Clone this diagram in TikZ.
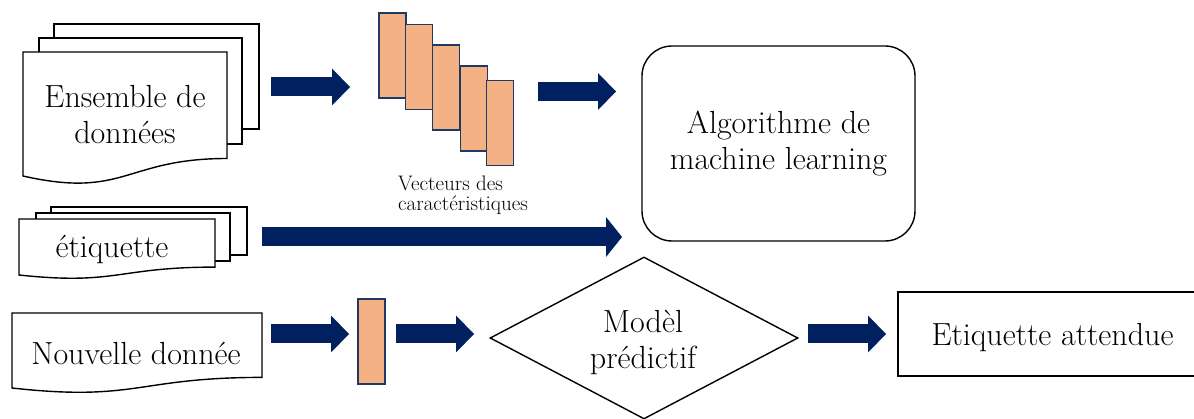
\documentclass[tikz,border=0pt]{standalone}
\usetikzlibrary{arrows.meta,shapes.geometric}
\definecolor{navy}{HTML}{002060}
\definecolor{peach}{HTML}{F4B183}
\definecolor{vecedge}{HTML}{1F3864}
\begin{document}
\begin{tikzpicture}[x=1pt,y=-1pt,
  outline/.style={draw=black, line width=1.4pt, fill=white, line join=miter},
  bigfont/.style={font=\fontsize{32}{36}\selectfont},
  bigtext/.style={bigfont, inner sep=0pt, align=center},
  smalltext/.style={font=\fontsize{21}{20}\selectfont, inner sep=0pt, align=left},
  vecbox/.style={draw=vecedge, fill=peach, line width=1.8pt, minimum width=27pt, minimum height=85pt, inner sep=0pt, outer sep=0pt},
  blockarrow/.style={draw=navy, line width=19pt, -{Triangle[length=18pt,width=37pt,line width=0pt]}},
  longarrow/.style={draw=navy, line width=19pt, -{Triangle[length=16pt,width=40pt,line width=0pt]}},
]
\useasboundingbox (0,0) rectangle (1194,419);

% --- Ensemble de donnees (multi-document)
\draw[outline] (54,24) rectangle (259,129);
\draw[outline] (39,38) rectangle (242,144);
\draw[outline] (23,52) -- (227,52) -- (227,158.5)
  .. controls (125,158.5) and (125,199.1) .. (23,176) -- cycle;
\node[bigtext, anchor=north] (ens) at (125,84.8) {Ensemble de\\donn\'ees};

% --- etiquette (multi-document)
\draw[outline] (51,207) rectangle (247,255);
\draw[outline] (36,213) rectangle (230,261);
\draw[outline] (19,219) -- (215,219) -- (215,267.1)
  .. controls (117,267.1) and (117,285.5) .. (19,275) -- cycle;
\node[bigtext, anchor=base] (eti) at (112,258) {\'etiquette};

% --- Nouvelle donnee (document)
\draw[outline] (12,313) -- (262,313) -- (262,377.4)
  .. controls (137,377.4) and (137,401.9) .. (12,388) -- cycle;
\node[bigtext, anchor=base] (nouv) at (136,365) {Nouvelle donn\'ee};

% --- feature vectors
\node[vecbox] (v1) at (392.5,55.5) {};
\node[vecbox] (v2) at (419,67) {};
\node[vecbox] (v3) at (446,87.5) {};
\node[vecbox] (v4) at (474,108.5) {};
\node[vecbox] (v5) at (500,123) {};
\node[smalltext, anchor=north west] (veclab) at (398,175.4) {Vecteurs des\\caract\'eristiques};

% --- single new vector
\node[vecbox] (vnew) at (371.5,341.5) {};

% --- algorithm box
\node[outline, bigfont, rounded corners=30pt, minimum width=273pt, minimum height=195pt, inner sep=0pt,
      align=center] (alg) at (778.5,143.5)
      {Algorithme de\\machine learning};

% --- predictive model diamond
\node[outline, diamond, minimum width=308pt, minimum height=162pt, inner sep=0pt] (mod) at (644,338) {};
\node[bigtext, anchor=north] (modtxt) at (643,309.6) {Mod\`el\\pr\'edictif};

% --- expected label box
\node[outline, bigfont, minimum width=309pt, minimum height=84pt, inner sep=0pt, text depth=0pt]
      (att) at (1052.5,334) {Etiquette attendue};

% --- arrows
\coordinate (a1s) at (271,87);   \coordinate (a1e) at (350,87);
\coordinate (a2s) at (538,91.5); \coordinate (a2e) at (616,91.5);
\coordinate (a3s) at (262,237);  \coordinate (a3e) at (622,237);
\coordinate (a4s) at (271,334);  \coordinate (a4e) at (349,334);
\coordinate (a5s) at (396,334);  \coordinate (a5e) at (474,334);
\coordinate (a6s) at (808,334);  \coordinate (a6e) at (886,334);
\draw[blockarrow] (a1s) -- (a1e);
\draw[blockarrow] (a2s) -- (a2e);
\draw[longarrow]  (a3s) -- (a3e);
\draw[blockarrow] (a4s) -- (a4e);
\draw[blockarrow] (a5s) -- (a5e);
\draw[blockarrow] (a6s) -- (a6e);
\end{tikzpicture}
\end{document}
